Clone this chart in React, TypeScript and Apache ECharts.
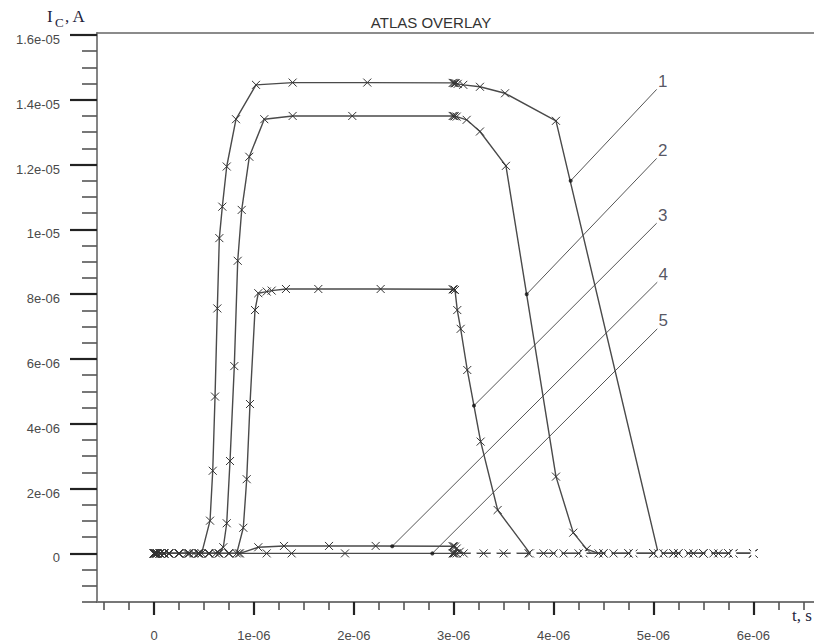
import React, { useEffect, useRef } from "react";
import * as echarts from "echarts";

// time in microseconds, current in microamperes (axis labels show SI values)
const t1 = [0, 0.01, 0.03, 0.06, 0.1, 0.15, 0.25, 0.33, 0.4, 0.44, 0.477, 0.561, 0.588, 0.611, 0.634, 0.654, 0.684, 0.728, 0.821, 1.021, 1.388, 2.135, 2.99, 3.0, 3.01, 3.02, 3.04, 3.096, 3.263, 3.514, 4.024, 5.048, 5.1, 5.2, 5.35, 5.5, 5.65, 5.8, 6.0];
const i1 = [0, 0, 0, 0, 0, 0, 0, 0, 0, 0, 0, 1.01, 2.55, 4.84, 7.56, 9.73, 10.7, 11.94, 13.4, 14.46, 14.53, 14.53, 14.52, 14.52, 14.51, 14.51, 14.49, 14.46, 14.4, 14.2, 13.35, 0, 0, 0, 0, 0, 0, 0, 0];

const t2 = [0, 0.01, 0.03, 0.06, 0.1, 0.15, 0.25, 0.35, 0.45, 0.55, 0.62, 0.694, 0.728, 0.761, 0.804, 0.838, 0.878, 0.954, 1.104, 1.388, 1.985, 2.99, 3.0, 3.01, 3.03, 3.13, 3.263, 3.523, 4.024, 4.197, 4.331, 4.45, 4.6, 4.8, 5.0, 5.2, 5.4, 5.6, 5.8, 6.0];
const i2 = [0, 0, 0, 0, 0, 0, 0, 0, 0, 0, 0, 0.19, 0.93, 2.85, 5.78, 9.03, 10.6, 12.24, 13.4, 13.5, 13.5, 13.5, 13.5, 13.49, 13.48, 13.38, 13.02, 11.96, 2.37, 0.64, 0.13, 0, 0, 0, 0, 0, 0, 0, 0, 0];

const t3 = [0, 0.01, 0.03, 0.06, 0.1, 0.15, 0.25, 0.35, 0.45, 0.55, 0.65, 0.75, 0.828, 0.894, 0.928, 0.961, 1.011, 1.044, 1.128, 1.178, 1.321, 1.645, 2.269, 2.99, 3.0, 3.013, 3.036, 3.07, 3.136, 3.27, 3.44, 3.764, 3.9, 4.1, 4.3, 4.5, 4.75, 5.0, 5.25, 5.5, 5.75, 6.0];
const i3 = [0, 0, 0, 0, 0, 0, 0, 0, 0, 0, 0, 0, 0, 0.79, 2.29, 4.61, 7.51, 8.03, 8.08, 8.11, 8.16, 8.16, 8.16, 8.15, 8.15, 8.13, 7.51, 6.93, 5.66, 3.45, 1.34, 0, 0, 0, 0, 0, 0, 0, 0, 0, 0, 0];

const t4 = [0, 0.01, 0.03, 0.06, 0.1, 0.15, 0.25, 0.35, 0.45, 0.55, 0.65, 0.75, 0.86, 1.044, 1.301, 1.752, 2.219, 2.99, 3.0, 3.013, 3.03, 3.06, 3.1, 3.3, 3.5, 3.75, 4.0, 4.25, 4.5, 4.75, 5.0, 5.25, 5.5, 5.75, 6.0];
const i4 = [0, 0, 0, 0, 0, 0, 0, 0, 0, 0, 0, 0, 0, 0.19, 0.23, 0.23, 0.23, 0.22, 0.22, 0.21, 0.15, 0.05, 0, 0, 0, 0, 0, 0, 0, 0, 0, 0, 0, 0, 0];

const t5 = [0, 0.01, 0.03, 0.06, 0.1, 0.15, 0.25, 0.35, 0.45, 0.55, 0.65, 0.75, 0.85, 1.128, 1.378, 1.912, 2.99, 3.0, 3.01, 3.03, 3.2, 3.4, 3.6, 3.8, 4.05, 4.3, 4.55, 4.8, 5.05, 5.3, 5.55, 5.8, 6.0];
const i5 = [0, 0, 0, 0, 0, 0, 0, 0, 0, 0, 0, 0, 0, 0, 0, 0, 0, 0, 0, 0, 0, 0, 0, 0, 0, 0, 0, 0, 0, 0, 0, 0, 0];

// leader lines: curve number, point on curve, label end
const leaderNames = ["1", "2", "3", "4", "5"];
const leaderFrom = [[4.171, 11.5], [3.731, 8.0], [3.203, 4.56], [2.385, 0.22], [2.786, 0]];
const leaderTo = [[5.032, 14.32], [5.032, 12.19], [5.032, 10.19], [5.038, 8.37], [5.038, 6.93]];

const xTickVals = [0, 1, 2, 3, 4, 5, 6];
const xTickLabels = ["0", "1e-06", "2e-06", "3e-06", "4e-06", "5e-06", "6e-06"];
const yTickVals = [0, 2, 4, 6, 8, 10, 12, 14, 16];
const yTickLabels = ["0", "2e-06", "4e-06", "6e-06", "8e-06", "1e-05", "1.2e-05", "1.4e-05", "1.6e-05"];

const X_MIN = -0.5706;
const X_MAX = 6.607;
const Y_MIN = -1.5;
const Y_MAX = 16.06;

const xMinor: number[] = [];
for (let k = -2; k <= 26; k++) if (k % 4 !== 0) xMinor.push(k * 0.25);
const yMinor: number[] = [];
for (let k = -3; k <= 32; k++) if (k % 4 !== 0) yMinor.push(k * 0.5);

const CROSS = "path://M0,0L10,10M10,0L0,10";

function lookup(vals: number[], labels: string[]) {
  return (v: number) => {
    let best = 0;
    for (let i = 0; i < vals.length; i++) if (Math.abs(vals[i] - v) < Math.abs(vals[best] - v)) best = i;
    return labels[best];
  };
}

function curve(name: string, t: number[], iv: number[], circleTailFrom?: number) {
  return {
    name,
    type: "line",
    xAxisIndex: 0,
    yAxisIndex: 0,
    data: t.map((v, k) => {
      if (circleTailFrom !== undefined && v >= circleTailFrom) {
        return { value: [v, iv[k]], symbol: "emptyCircle", symbolSize: 6 };
      }
      return [v, iv[k]];
    }),
    symbol: CROSS,
    symbolSize: [8, 8],
    showSymbol: true,
    showAllSymbol: true,
    lineStyle: { color: "#4a4a4a", width: 1.4 },
    itemStyle: { color: "rgba(0,0,0,0)", borderColor: "#333", borderWidth: 1 },
    silent: true,
    z: 3,
  };
}

export default function App() {
  const ref = useRef<HTMLDivElement>(null);
  useEffect(() => {
    if (!ref.current) return;
    const chart = echarts.init(ref.current, null, { renderer: "svg" });
    const axisLineStyle = { color: "#777", width: 1.8 };
    const series: any[] = [
      curve("1", t1, i1),
      curve("2", t2, i2),
      curve("3", t3, i3),
      curve("4", t4, i4),
      curve("5", t5, i5, 3.2),
    ];
    leaderNames.forEach((n, k) => {
      series.push({
        type: "line",
        name: "leader" + n,
        data: [leaderFrom[k], leaderTo[k]],
        symbol: "none",
        lineStyle: { color: "#555", width: 1 },
        silent: true,
        z: 2,
      });
    });
    series.push({
      type: "scatter",
      name: "dots",
      data: leaderFrom,
      symbol: "circle",
      symbolSize: 4,
      itemStyle: { color: "#111" },
      silent: true,
      z: 5,
    });
    series.push({
      type: "scatter",
      name: "numbers",
      data: leaderTo.map((p, k) => ({ value: p, name: leaderNames[k] })),
      symbolSize: 1,
      itemStyle: { color: "rgba(0,0,0,0)" },
      label: {
        show: true,
        position: "inside",
        offset: [6, -8],
        formatter: (p: any) => p.name,
        fontFamily: "Liberation Sans, Arial, sans-serif",
        fontSize: 17,
        color: "#2a2a3a",
      },
      silent: true,
      z: 6,
    });

    chart.setOption({
      animation: false,
      backgroundColor: "#ffffff",
      grid: { left: 97, right: 0, top: 33, bottom: 41 },
      xAxis: [
        {
          type: "value",
          position: "bottom",
          min: X_MIN,
          max: X_MAX,
          axisLine: { show: true, onZero: false, lineStyle: axisLineStyle },
          axisTick: { show: true, inside: false, length: 13, customValues: xTickVals, lineStyle: { color: "#222", width: 2.2 } },
          axisLabel: {
            show: true,
            customValues: xTickVals,
            margin: 27,
            formatter: lookup(xTickVals, xTickLabels),
            fontFamily: "Liberation Sans, Arial, sans-serif",
            fontSize: 13,
            color: "#4a4a4a",
          },
          splitLine: { show: false },
        },
        {
          type: "value",
          position: "bottom",
          min: X_MIN,
          max: X_MAX,
          axisLine: { show: false, onZero: false },
          axisTick: { show: true, inside: false, length: 8, customValues: xMinor, lineStyle: { color: "#555", width: 1.6 } },
          axisLabel: { show: false },
          splitLine: { show: false },
        },
        {
          type: "value",
          position: "top",
          min: X_MIN,
          max: X_MAX,
          axisLine: { show: true, onZero: false, lineStyle: { color: "#666", width: 1.6 } },
          axisTick: { show: false },
          axisLabel: { show: false },
          splitLine: { show: false },
        },
      ],
      yAxis: [
        {
          type: "value",
          position: "left",
          min: Y_MIN,
          max: Y_MAX,
          axisLine: { show: true, onZero: false, lineStyle: axisLineStyle },
          axisTick: { show: true, inside: false, length: 27, customValues: yTickVals, lineStyle: { color: "#222", width: 2.2 } },
          axisLabel: {
            show: true,
            customValues: yTickVals,
            margin: 37,
            verticalAlign: "top",
            lineHeight: 9,
            formatter: lookup(yTickVals, yTickLabels),
            fontFamily: "Liberation Sans, Arial, sans-serif",
            fontSize: 13,
            color: "#4a4a4a",
          },
          splitLine: { show: false },
        },
        {
          type: "value",
          position: "left",
          min: Y_MIN,
          max: Y_MAX,
          axisLine: { show: false, onZero: false },
          axisTick: { show: true, inside: false, length: 15, customValues: yMinor, lineStyle: { color: "#555", width: 1.6 } },
          axisLabel: { show: false },
          splitLine: { show: false },
        },
      ],
      graphic: [
        {
          type: "text",
          x: 431,
          y: 22,
          style: {
            text: "ATLAS OVERLAY",
            fill: "#333",
            font: "15px 'Liberation Sans', Arial, sans-serif",
            align: "center",
            verticalAlign: "middle",
          },
        },
        {
          type: "text",
          x: 47,
          y: 16,
          style: { text: "I", fill: "#1e1e3c", font: "17px 'Liberation Serif', 'Times New Roman', serif", align: "left", verticalAlign: "middle" },
        },
        {
          type: "text",
          x: 55,
          y: 22,
          style: { text: "C", fill: "#1e1e3c", font: "13px 'Liberation Serif', 'Times New Roman', serif", align: "left", verticalAlign: "middle" },
        },
        {
          type: "text",
          x: 65,
          y: 16,
          style: { text: ", A", fill: "#1e1e3c", font: "17px 'Liberation Serif', 'Times New Roman', serif", align: "left", verticalAlign: "middle" },
        },
        {
          type: "text",
          x: 792,
          y: 615,
          style: { text: "t, s", fill: "#1e1e3c", font: "17px 'Liberation Serif', 'Times New Roman', serif", align: "left", verticalAlign: "middle" },
        },
      ],
      series,
    });
    return () => chart.dispose();
  }, []);
  return <div ref={ref} style={{ position: "absolute", left: 0, top: 0, width: 814, height: 643 }} />;
}
